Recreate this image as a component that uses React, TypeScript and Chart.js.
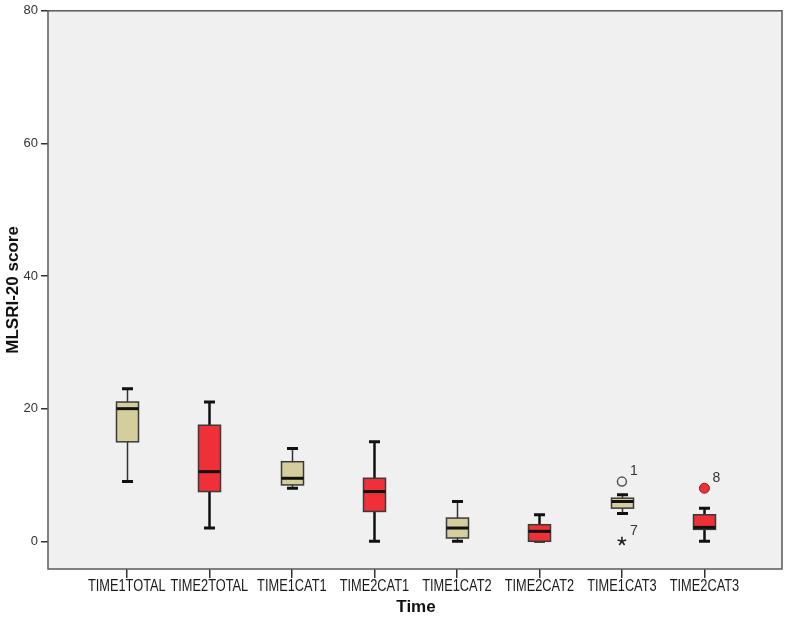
import React, { useEffect, useRef } from "react";
import { Chart, registerables } from "chart.js";

Chart.register(...registerables);

const categories = [
  "TIME1TOTAL",
  "TIME2TOTAL",
  "TIME1CAT1",
  "TIME2CAT1",
  "TIME1CAT2",
  "TIME2CAT2",
  "TIME1CAT3",
  "TIME2CAT3",
];
const whiskerMin = [9, 2, 8, 0, 0, 0, 4.2, 0];
const q1 = [15, 7.5, 8.5, 4.5, 0.5, 0, 5, 1.8];
const medians = [20, 10.5, 9.5, 7.5, 2, 1.5, 6, 2.1];
const q3 = [21, 17.5, 12, 9.5, 3.5, 2.5, 6.5, 4];
const whiskerMax = [23, 21, 14, 15, 6, 4, 7, 5];
const boxColors = ["tan", "red", "tan", "red", "tan", "red", "tan", "red"];

const outlierCats = [6, 6, 7];
const outlierValues = [9, 0, 8];
const outlierLabels = ["1", "7", "8"];
const outlierKinds = ["circle", "star", "filled"];

const yTicks = [0, 20, 40, 60, 80];
const yMin = -4.18;
const yMax = 80;

const TAN = "#d3ce9c";
const RED = "#ef3039";

const boxPlugin = {
  id: "boxPlugin",
  beforeDraw(chart: any) {
    const { ctx, chartArea } = chart;
    ctx.save();
    ctx.fillStyle = "#f0f0f0";
    ctx.fillRect(chartArea.left, chartArea.top, chartArea.right - chartArea.left, chartArea.bottom - chartArea.top);
    ctx.restore();
  },
  afterDraw(chart: any) {
    const { ctx, chartArea } = chart;
    const xs = chart.scales.x;
    const ys = chart.scales.y;
    ctx.save();
    const w = 22;
    const cap = 11;
    for (let i = 0; i < categories.length; i++) {
      const x = Math.round(xs.getPixelForValue(i)) + 0.5;
      const yMaxP = ys.getPixelForValue(whiskerMax[i]);
      const yMinP = ys.getPixelForValue(whiskerMin[i]);
      const yQ1 = ys.getPixelForValue(q1[i]);
      const yQ3 = ys.getPixelForValue(q3[i]);
      const yMed = ys.getPixelForValue(medians[i]);
      const isRed = boxColors[i] === "red";
      ctx.strokeStyle = isRed ? "#111" : "#333";
      ctx.lineWidth = isRed ? 2.5 : 1.5;
      ctx.beginPath();
      ctx.moveTo(x, yMaxP);
      ctx.lineTo(x, yMinP);
      ctx.stroke();
      ctx.strokeStyle = "#111";
      ctx.lineWidth = 3;
      ctx.beginPath();
      ctx.moveTo(x - cap / 2, yMaxP);
      ctx.lineTo(x + cap / 2, yMaxP);
      ctx.moveTo(x - cap / 2, yMinP);
      ctx.lineTo(x + cap / 2, yMinP);
      ctx.stroke();
      ctx.fillStyle = isRed ? RED : TAN;
      ctx.fillRect(x - w / 2, yQ3, w, yQ1 - yQ3);
      ctx.strokeStyle = "#3a3a3a";
      ctx.lineWidth = 1.5;
      ctx.strokeRect(x - w / 2, yQ3, w, yQ1 - yQ3);
      ctx.strokeStyle = "#111";
      ctx.lineWidth = 3;
      ctx.beginPath();
      ctx.moveTo(x - w / 2, yMed);
      ctx.lineTo(x + w / 2, yMed);
      ctx.stroke();
    }
    for (let k = 0; k < outlierCats.length; k++) {
      const x = xs.getPixelForValue(outlierCats[k]);
      const y = ys.getPixelForValue(outlierValues[k]);
      const kind = outlierKinds[k];
      if (kind === "circle") {
        ctx.beginPath();
        ctx.arc(x, y, 4.5, 0, Math.PI * 2);
        ctx.strokeStyle = "#555";
        ctx.lineWidth = 1.5;
        ctx.stroke();
      } else if (kind === "filled") {
        ctx.beginPath();
        ctx.arc(x, y, 5, 0, Math.PI * 2);
        ctx.fillStyle = RED;
        ctx.fill();
        ctx.strokeStyle = "#8a1f25";
        ctx.lineWidth = 1;
        ctx.stroke();
      } else {
        ctx.strokeStyle = "#222";
        ctx.lineWidth = 1.6;
        ctx.beginPath();
        for (let a = 0; a < 5; a++) {
          const ang = -Math.PI / 2 + (a * 2 * Math.PI) / 5;
          ctx.moveTo(x, y);
          ctx.lineTo(x + Math.cos(ang) * 4.5, y + Math.sin(ang) * 4.5);
        }
        ctx.stroke();
      }
      ctx.fillStyle = "#333";
      ctx.font = "14px 'Liberation Sans', Arial, sans-serif";
      ctx.textAlign = "left";
      ctx.textBaseline = "middle";
      ctx.fillText(outlierLabels[k], x + 8, y - 10);
    }
    ctx.strokeStyle = "#5a5a5a";
    ctx.lineWidth = 1.5;
    ctx.strokeRect(chartArea.left, chartArea.top, chartArea.right - chartArea.left, chartArea.bottom - chartArea.top);
    ctx.fillStyle = "#1a1a1a";
    ctx.font = "16px 'Liberation Sans', Arial, sans-serif";
    ctx.textAlign = "center";
    ctx.textBaseline = "middle";
    for (let i = 0; i < categories.length; i++) {
      const x = xs.getPixelForValue(i);
      ctx.save();
      ctx.translate(x, 587);
      ctx.scale(0.8, 1);
      ctx.fillText(categories[i], 0, 0);
      ctx.restore();
    }
    ctx.fillStyle = "#111";
    ctx.font = "bold 17px 'Liberation Sans', Arial, sans-serif";
    ctx.textAlign = "center";
    ctx.textBaseline = "middle";
    ctx.fillText("Time", (chartArea.left + chartArea.right) / 2 + 1, 607);
    ctx.save();
    ctx.translate(13, (chartArea.top + chartArea.bottom) / 2);
    ctx.rotate(-Math.PI / 2);
    ctx.fillText("MLSRI-20 score", 0, 0);
    ctx.restore();
    ctx.restore();
  },
};

export default function App() {
  const ref = useRef<HTMLCanvasElement | null>(null);
  useEffect(() => {
    if (!ref.current) return;
    const chart = new Chart(ref.current, {
      type: "scatter",
      data: {
        datasets: [
          {
            data: medians.map((m, i) => ({ x: i, y: m })),
            pointRadius: 0,
            showLine: false,
          },
        ],
      },
      options: {
        animation: false,
        responsive: false,
        devicePixelRatio: 1,
        layout: { padding: { top: 5, right: 5, left: 0, bottom: 0 } },
        plugins: { legend: { display: false }, tooltip: { enabled: false } },
        scales: {
          x: {
            type: "linear",
            min: -0.955,
            max: 7.94,
            afterBuildTicks: (s: any) => {
              s.ticks = categories.map((_, i) => ({ value: i }));
            },
            afterFit: (s: any) => {
              s.height = 48;
            },
            ticks: {
              autoSkip: false,
              maxRotation: 0,
              minRotation: 0,
              padding: 3,
              color: "rgba(0,0,0,0)",
              font: { family: "'Liberation Sans', Arial, sans-serif", size: 12 },
              callback: (v: any) => categories[v] ?? "",
            },
            grid: { display: true, drawOnChartArea: false, drawTicks: true, tickLength: 9, color: "#333", lineWidth: 1.5 },
            border: { display: false },
          },
          y: {
            type: "linear",
            min: yMin,
            max: yMax,
            afterBuildTicks: (s: any) => {
              s.ticks = yTicks.map((v) => ({ value: v }));
            },
            afterFit: (s: any) => {
              s.width = 48;
            },
            ticks: {
              padding: 3,
              color: "#333",
              font: { family: "'Liberation Sans', Arial, sans-serif", size: 13 },
            },
            grid: { display: true, drawOnChartArea: false, drawTicks: true, tickLength: 7, color: "#333", lineWidth: 1.5 },
            border: { display: false },
          },
        },
      },
      plugins: [boxPlugin],
    } as any);
    return () => chart.destroy();
  }, []);
  return (
    <div style={{ position: "absolute", left: 0, top: 0, width: 787, height: 617, background: "#fff" }}>
      <canvas ref={ref} width={787} height={617} style={{ width: 787, height: 617 }} />
    </div>
  );
}
